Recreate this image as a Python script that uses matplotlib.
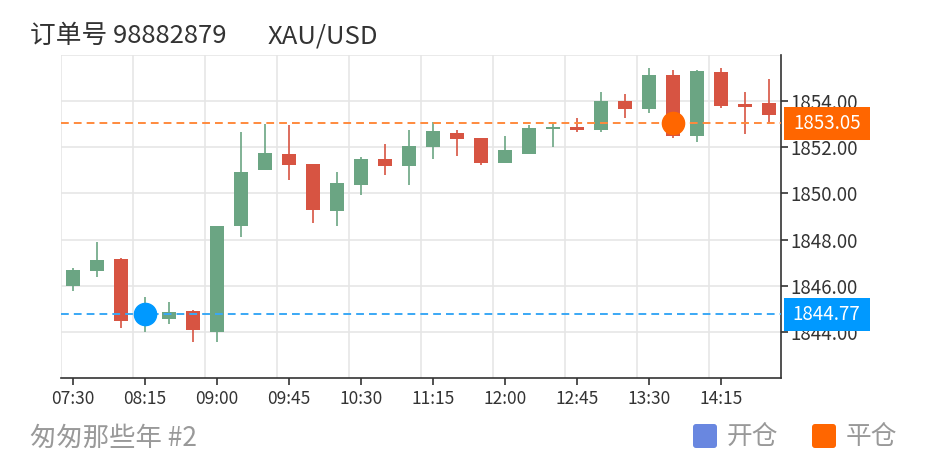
import numpy as np
import pandas as pd
import matplotlib
matplotlib.use('Agg')
import matplotlib.pyplot as plt
from matplotlib.patches import Rectangle, FancyBboxPatch
from matplotlib.transforms import IdentityTransform

plt.rcParams['font.family'] = ['Noto Sans CJK SC', 'DejaVu Sans']

# 15-minute bars, 07:30 .. 14:45
times = pd.date_range('2021-01-01 07:30', periods=30, freq='15min').strftime('%H:%M').tolist()
opens = [1845.99, 1846.64, 1847.16, 1844.60, 1844.56, 1844.92, 1844.00, 1848.59, 1851.00, 1851.72,
         1851.29, 1849.23, 1850.36, 1851.48, 1851.19, 1852.02, 1852.60, 1852.40, 1851.33, 1851.69,
         1852.79, 1852.89, 1852.73, 1853.99, 1853.65, 1855.13, 1852.47, 1855.27, 1853.86, 1853.91]
closes = [1846.68, 1847.13, 1844.45, 1844.90, 1844.88, 1844.07, 1848.60, 1850.93, 1851.74, 1851.23,
          1849.27, 1850.44, 1851.49, 1851.19, 1852.07, 1852.69, 1852.35, 1851.33, 1851.87, 1852.84,
          1852.89, 1852.74, 1853.99, 1853.67, 1855.13, 1852.47, 1855.29, 1853.80, 1853.74, 1853.39]
lows = [1845.79, 1846.38, 1844.16, 1843.99, 1844.33, 1843.58, 1843.55, 1848.10, 1851.00, 1850.57,
        1848.73, 1848.59, 1849.92, 1850.80, 1850.38, 1851.48, 1851.63, 1851.23, 1851.33, 1851.69,
        1852.01, 1852.66, 1852.67, 1853.29, 1853.47, 1852.39, 1852.21, 1853.71, 1852.56, 1853.03]
highs = [1846.76, 1847.88, 1847.19, 1845.50, 1845.31, 1844.95, 1848.60, 1852.65, 1853.03, 1852.96,
         1851.29, 1850.91, 1851.59, 1852.13, 1852.76, 1853.08, 1852.77, 1852.40, 1852.50, 1852.96,
         1853.03, 1853.29, 1854.40, 1854.33, 1855.43, 1855.37, 1855.34, 1855.42, 1854.38, 1854.94]

open_idx, open_price = 3, 1844.77     # 开仓
close_idx, close_price = 25, 1853.05  # 平仓

order_no = '订单号 98882879'
symbol = 'XAU/USD'
footer = '匆匆那些年 #2'

UP = '#6ba583'
DOWN = '#d75442'
BLUE = '#0099ff'
ORANGE = '#ff6600'

fig = plt.figure(figsize=(9.3, 4.68), dpi=100)
ax = fig.add_axes([61 / 930, 1 - 378 / 468, 720 / 930, 323 / 468])

x = np.arange(len(times))
o = np.array(opens)
c = np.array(closes)
colors = [UP if cc >= oo else DOWN for oo, cc in zip(o, c)]

# grid
for gx in range(0, len(times), 3):
    ax.axvline(gx - 0.5, color='#e6e6e6', lw=1.2, zorder=0)
for gy in range(1844, 1857, 2):
    ax.axhline(gy, color='#e6e6e6', lw=1.2, zorder=0)

# candles
ax.vlines(x, lows, highs, colors=colors, lw=1.2, zorder=2)
ax.bar(x, np.maximum(np.abs(c - o), 0.06), bottom=np.minimum(o, c), width=0.55,
       color=colors, zorder=3)

# entry / exit lines and markers
ax.axhline(close_price, color='#ff8a3d', lw=1.4, ls=(0, (4, 2.6)), zorder=4)
ax.axhline(open_price, color='#3aa8f5', lw=1.4, ls=(0, (4, 2.6)), zorder=4)
ax.plot(open_idx, open_price, 'o', color=BLUE, ms=16, zorder=5)
ax.plot(close_idx, close_price, 'o', color=ORANGE, ms=16, zorder=5)

ax.set_xlim(-0.5, len(times) - 0.5)
ax.set_ylim(1842, 1856)

ax.set_xticks(x[::3])
ax.set_xticklabels(times[::3])
ax.yaxis.tick_right()
ax.set_yticks(range(1844, 1855, 2))
ax.set_yticklabels([f'{v:.2f}' for v in range(1844, 1855, 2)])
ax.tick_params(axis='both', colors='#333333', length=5, width=1.2)
ax.tick_params(axis='x', pad=4, labelsize=12.5)
ax.tick_params(axis='y', pad=2, labelsize=13.5)

for s in ['top', 'left']:
    ax.spines[s].set_visible(False)
for s in ['bottom', 'right']:
    ax.spines[s].set_color('#333333')
    ax.spines[s].set_linewidth(1.2)

# price tags on right axis
ytr = ax.get_yaxis_transform()
for price, col in [(close_price, ORANGE), (open_price, BLUE)]:
    ax.add_patch(Rectangle((1.004, price - 0.715), 0.119, 1.43, transform=ytr,
                           facecolor=col, edgecolor='none', clip_on=False, zorder=6))
    ax.text(1.0635, price, f'{price:.2f}', transform=ytr, ha='center', va='center',
            color='white', fontsize=13.5, zorder=7, clip_on=False)

# titles
fig.text(30 / 930, 1 - 36 / 468, order_no, fontsize=18.5, color='#333333', va='center')
fig.text(268 / 930, 1 - 36 / 468, symbol, fontsize=18.5, color='#333333', va='center')
fig.text(30 / 930, 1 - 438 / 468, footer, fontsize=19, color='#999999', va='center')

# legend
for lx, col, lab in [(693, '#6987e0', '开仓'), (812, ORANGE, '平仓')]:
    fig.add_artist(FancyBboxPatch((lx + 3, 468 - 448 + 3), 18, 18, boxstyle='round,pad=3',
                                  transform=IdentityTransform(), facecolor=col, edgecolor='none'))
    fig.text((lx + 34) / 930, 1 - 437 / 468, lab, fontsize=18.5, color='#999999', va='center')

fig.savefig('out.png', dpi=100)
